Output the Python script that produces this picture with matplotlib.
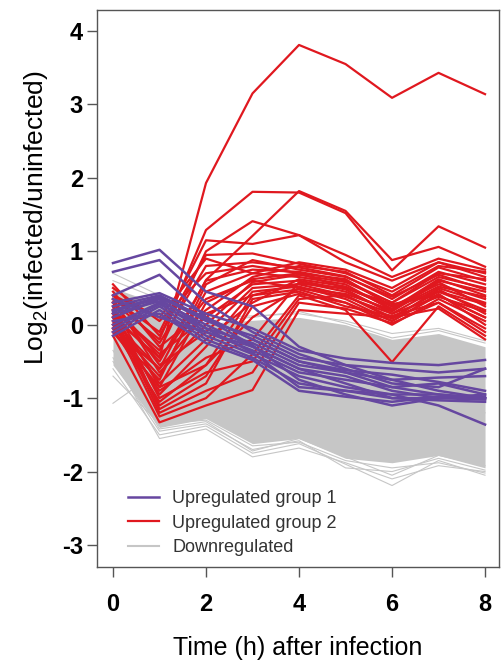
import matplotlib
matplotlib.use('Agg')
import matplotlib.pyplot as plt
from matplotlib.lines import Line2D

plt.rcParams['font.family'] = ['Liberation Sans', 'DejaVu Sans']
plt.rcParams['mathtext.default'] = 'regular'
plt.rcParams['axes.unicode_minus'] = False

# time points (h)
hours = [0, 1, 2, 3, 4, 5, 6, 7, 8]

# Upregulated group 2 (red)
group2 = [
    [0.10, -0.45, 1.93, 3.15, 3.81, 3.55, 3.09, 3.43, 3.14],
    [0.30, -0.20, 1.29, 1.81, 1.80, 1.52, 0.74, 1.34, 1.05],
    [0.05, -0.60, 0.61, 1.21, 1.82, 1.55, 0.88, 1.06, 0.79],
    [0.20, -0.35, 1.00, 1.41, 1.22, 0.95, 0.65, 0.90, 0.75],
    [0.35, -0.10, 1.15, 1.10, 1.22, 0.85, 0.60, 0.85, 0.65],
    [0.55, -0.15, 0.95, 0.97, 0.83, 0.70, 0.45, 0.80, 0.72],
    [0.40, -0.25, 0.80, 0.85, 0.78, 0.66, 0.35, 0.72, 0.55],
    [0.15, -0.50, 0.60, 0.75, 0.72, 0.60, 0.30, 0.65, 0.50],
    [0.00, -0.70, 0.45, 0.70, 0.65, 0.55, 0.20, 0.60, 0.45],
    [-0.10, -0.85, 0.30, 0.62, 0.70, 0.62, 0.25, 0.55, 0.35],
    [0.20, -0.40, 0.10, 0.55, 0.60, 0.48, 0.15, 0.50, 0.30],
    [0.30, -0.55, -0.10, 0.50, 0.55, 0.40, 0.10, 0.45, 0.20],
    [0.10, -0.95, -0.30, 0.45, 0.52, 0.35, 0.05, 0.40, 0.10],
    [-0.05, -1.05, -0.55, 0.40, 0.48, 0.30, 0.00, 0.35, 0.05],
    [0.25, -1.15, -0.80, 0.35, 0.45, 0.25, 0.12, 0.30, -0.05],
    [0.05, -1.25, -1.00, -0.40, 0.40, 0.20, -0.51, 0.25, -0.15],
    [-0.15, -1.33, -1.10, -0.89, 0.20, 0.15, 0.10, 0.22, -0.20],
    [0.45, -0.30, 0.20, 0.65, 0.80, 0.72, 0.40, 0.78, 0.60],
    [0.35, -0.65, 0.00, 0.58, 0.68, 0.58, 0.30, 0.70, 0.62],
    [0.15, -0.80, -0.20, 0.30, 0.62, 0.52, 0.22, 0.62, 0.40],
    [0.00, -0.90, -0.45, -0.20, 0.58, 0.45, 0.18, 0.58, 0.25],
    [0.20, -1.00, -0.65, -0.50, 0.35, 0.40, 0.08, 0.48, 0.15],
    [-0.10, -0.75, 0.55, 0.88, 0.75, 0.65, 0.38, 0.68, 0.48],
    [0.50, 0.05, 0.70, 0.80, 0.70, 0.50, 0.28, 0.40, 0.10],
    [0.30, -0.45, 0.35, 0.60, 0.50, 0.42, 0.20, 0.52, 0.38],
    [0.10, -1.10, -0.70, 0.25, 0.42, 0.30, 0.05, 0.42, 0.00],
    [0.40, 0.10, 0.90, 0.70, 0.85, 0.75, 0.50, 0.85, 0.70],
    [-0.05, -0.60, 0.15, 0.40, 0.56, 0.50, 0.25, 0.45, 0.28],
    [0.25, -0.85, -0.55, 0.10, 0.50, 0.38, 0.15, 0.38, 0.18],
    [0.15, -1.20, -0.90, -0.65, 0.30, 0.22, 0.02, 0.30, -0.10],
]

# Upregulated group 1 (purple)
group1 = [
    [0.84, 1.02, 0.45, 0.25, -0.30, -0.55, -0.75, -0.90, -1.00],
    [0.72, 0.88, 0.30, -0.10, -0.40, -0.60, -0.80, -0.85, -0.60],
    [0.40, 0.68, 0.10, -0.20, -0.50, -0.65, -0.85, -0.95, -1.00],
    [0.30, 0.43, 0.15, -0.05, -0.35, -0.46, -0.52, -0.55, -0.48],
    [0.20, 0.38, 0.05, -0.15, -0.45, -0.55, -0.60, -0.65, -0.60],
    [0.10, 0.35, -0.05, -0.25, -0.55, -0.65, -0.75, -0.72, -0.70],
    [0.00, 0.30, -0.10, -0.35, -0.65, -0.75, -0.85, -0.80, -0.95],
    [-0.10, 0.25, -0.15, -0.40, -0.70, -0.85, -0.95, -0.95, -1.00],
    [-0.15, 0.20, -0.20, -0.45, -0.80, -0.90, -1.00, -1.00, -1.02],
    [0.15, 0.32, 0.00, -0.30, -0.60, -0.80, -1.00, -1.03, -1.05],
    [0.25, 0.40, 0.08, -0.28, -0.75, -0.95, -1.10, -1.00, -0.98],
    [0.05, 0.15, -0.25, -0.48, -0.90, -0.98, -1.05, -0.98, -1.00],
    [-0.05, 0.28, -0.05, -0.38, -0.85, -0.90, -0.95, -1.10, -1.36],
    [0.35, 0.10, -0.10, -0.30, -0.60, -0.70, -0.90, -1.00, -0.95],
    [0.18, 0.36, 0.10, -0.20, -0.50, -0.62, -0.68, -0.78, -0.90],
]

# Downregulated: dense band (envelope) plus the stray lines at its edges
down_top = [0.50, 0.28, 0.02, 0.06, 0.10, 0.00, -0.20, -0.12, -0.30]
down_bot = [-0.55, -1.40, -1.28, -1.62, -1.55, -1.82, -1.88, -1.78, -1.95]
down_lines = [
    [-1.07, -0.62, -0.60, -0.75, -0.90, -1.00, -1.10, -1.05, -1.20],
    [-0.60, -1.50, -1.38, -1.75, -1.62, -1.90, -2.19, -1.85, -2.05],
    [-0.45, -1.55, -1.42, -1.80, -1.68, -1.88, -2.10, -1.92, -2.00],
    [-0.50, -1.45, -1.35, -1.70, -1.58, -1.95, -2.00, -1.82, -1.98],
    [0.70, 0.40, 0.10, 0.12, 0.15, 0.05, -0.12, -0.05, -0.22],
    [-0.70, -1.35, -1.30, -1.65, -1.60, -1.85, -1.95, -1.88, -2.02],
    [0.60, 0.35, 0.05, 0.10, 0.18, 0.02, -0.18, -0.08, -0.25],
    [-0.35, -1.42, -1.32, -1.72, -1.55, -1.80, -2.05, -1.78, -1.92],
]

red = '#e0181f'
purple = '#6647a0'
grey = '#c6c6c6'

fig = plt.figure(figsize=(5.01, 6.67), dpi=100)
ax = fig.add_axes([0.1936, 0.1499, 0.8024, 0.8351])

ax.fill_between(hours, down_bot, down_top, color=grey, lw=0, zorder=1)
for y in down_lines:
    ax.plot(hours, y, color=grey, lw=0.8, zorder=1)
for y in group2:
    ax.plot(hours, y, color=red, lw=1.6, zorder=2)
for y in group1:
    ax.plot(hours, y, color=purple, lw=1.8, zorder=3)

ax.set_xlim(-0.344, 8.30)
ax.set_ylim(-3.30, 4.286)
ax.set_xticks([0, 2, 4, 6, 8])
ax.set_yticks([-3, -2, -1, 0, 1, 2, 3, 4])
for s in ax.spines.values():
    s.set_color('#555555')
    s.set_linewidth(1.0)
ax.tick_params(axis='both', direction='out', length=7, width=1.0, color='#555555',
               labelsize=17)
ax.tick_params(axis='x', pad=12)
ax.tick_params(axis='y', pad=3)
for lab in ax.get_xticklabels() + ax.get_yticklabels():
    lab.set_fontweight('bold')

ax.set_xlabel('Time (h) after infection', fontsize=18, labelpad=14)
ax.set_ylabel('Log$_2$(infected/uninfected)', fontsize=19)
ax.yaxis.set_label_coords(-0.117, 0.628)

handles = [Line2D([], [], color=purple, lw=1.8),
           Line2D([], [], color=red, lw=1.6),
           Line2D([], [], color=grey, lw=1.5)]
labels = ['Upregulated group 1', 'Upregulated group 2', 'Downregulated']
leg = ax.legend(handles, labels, loc='lower left', bbox_to_anchor=(0.077, 0.02),
                frameon=False, fontsize=13, handlelength=1.7, handletextpad=0.75,
                labelspacing=0.4, borderpad=0, borderaxespad=0)
for t in leg.get_texts():
    t.set_color('#333333')

fig.savefig('out.png', dpi=100)
